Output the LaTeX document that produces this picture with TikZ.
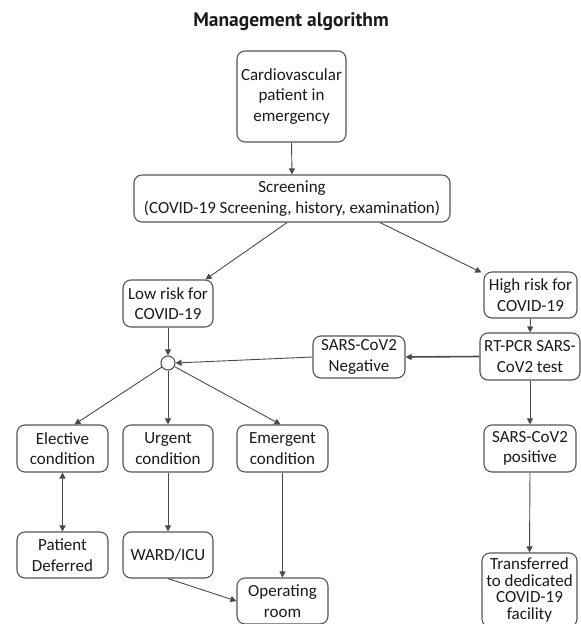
\documentclass[tikz,border=0pt]{standalone}
\usepackage{fontspec}
\setmainfont{PT Sans}
\newfontfamily\bodyfont{Carlito}
\usetikzlibrary{arrows.meta,calc}
\definecolor{boxgray}{HTML}{555555}
\definecolor{linegray}{HTML}{4A4A4A}
\definecolor{txt}{HTML}{1A1A1A}
\begin{document}
\begin{tikzpicture}[x=1pt,y=-1pt,
  box/.style={draw=boxgray, rounded corners=8pt, line width=1.1pt, align=center,
    inner sep=0pt, text=txt, font=\bodyfont\fontsize{17}{20.5}\selectfont},
  arr/.style={-{Triangle[length=6pt,width=6pt]}, draw=linegray, line width=0.9pt},
  thickarr/.style={arr, line width=1.6pt},
  dblarr/.style={{Triangle[length=6pt,width=6pt]}-{Triangle[length=6pt,width=6pt]}, draw=linegray, line width=1.6pt}]
\useasboundingbox[fill=white] (0,0) rectangle (581,624);
\node[text=txt, font=\fontsize{19.5}{22}\selectfont\bfseries] (title) at (291,22) {Management algorithm};
\node[box, minimum width=109pt, minimum height=91pt] (cardio) at (291.5,96.5) {Cardiovascular\\patient in\\emergency};
\node[box, minimum width=316pt, minimum height=47pt] (scr) at (292,198.5) {Screening\\(COVID-19 Screening, history, examination)};
\node[box, minimum width=90pt, minimum height=47pt] (low) at (168,303.5) {Low risk for\\COVID-19};
\node[box, minimum width=93pt, minimum height=46pt] (high) at (530.5,295) {High risk for\\COVID-19};
\node[box, minimum width=100pt, minimum height=47pt] (rt) at (530,356.5) {RT-PCR SARS-\\CoV2 test};
\node[box, minimum width=92pt, minimum height=42pt] (neg) at (359,357) {SARS-CoV2\\Negative};
\node[draw=boxgray, line width=1.1pt, circle, minimum size=14pt, inner sep=0pt] (circ) at (168,363) {};
\node[box, minimum width=91pt, minimum height=47pt] (elec) at (62.5,448.5) {Elective\\condition};
\node[box, minimum width=90pt, minimum height=47pt] (urg) at (168,448.5) {Urgent\\condition};
\node[box, minimum width=91pt, minimum height=47pt] (emer) at (282.5,448.5) {Emergent\\condition};
\node[box, minimum width=91pt, minimum height=46pt] (def) at (62.5,555) {Patient\\Deferred};
\node[box, minimum width=90pt, minimum height=46pt] (ward) at (168,555) {WARD/ICU};
\node[box, minimum width=91pt, minimum height=46pt] (or) at (282.5,601) {Operating\\room};
\node[box, minimum width=92pt, minimum height=47pt] (pos) at (530,448.5) {SARS-CoV2\\positive};
\node[box, minimum width=95pt, minimum height=74pt, font=\bodyfont\fontsize{17}{16.5}\selectfont] (trans) at (529.5,590) {Transferred\\to dedicated\\COVID-19\\facility};
\draw[arr] (cardio.south) -- (scr.north);
\draw[arr] ($(scr.south)+(-5,0)$) -- ($(low.north east)+(-8,0)$);
\draw[arr] ($(scr.south)+(88,0)$) -- ($(high.north west)+(-2,1)$);
\draw[arr] (low.south) -- (circ.north);
\draw[arr] (high.south) -- (rt.north);
\draw[thickarr] (rt.west) -- (neg.east);
\draw[arr] (neg.west) -- (circ.east);
\draw[arr] (circ) -- ($(elec.north)+(12,0)$);
\draw[arr] (circ.south) -- (urg.north);
\draw[arr] (circ) -- ($(emer.north)+(-2,0)$);
\draw[dblarr] (elec.south) -- (def.north);
\draw[arr] (urg.south) -- (ward.north);
\draw[arr] (emer.south) -- (or.north);
\draw[arr] (ward.south) -- (or.west);
\draw[arr] (rt.south) -- (pos.north);
\draw[arr] (pos.south) -- (trans.north);
\end{tikzpicture}
\end{document}
